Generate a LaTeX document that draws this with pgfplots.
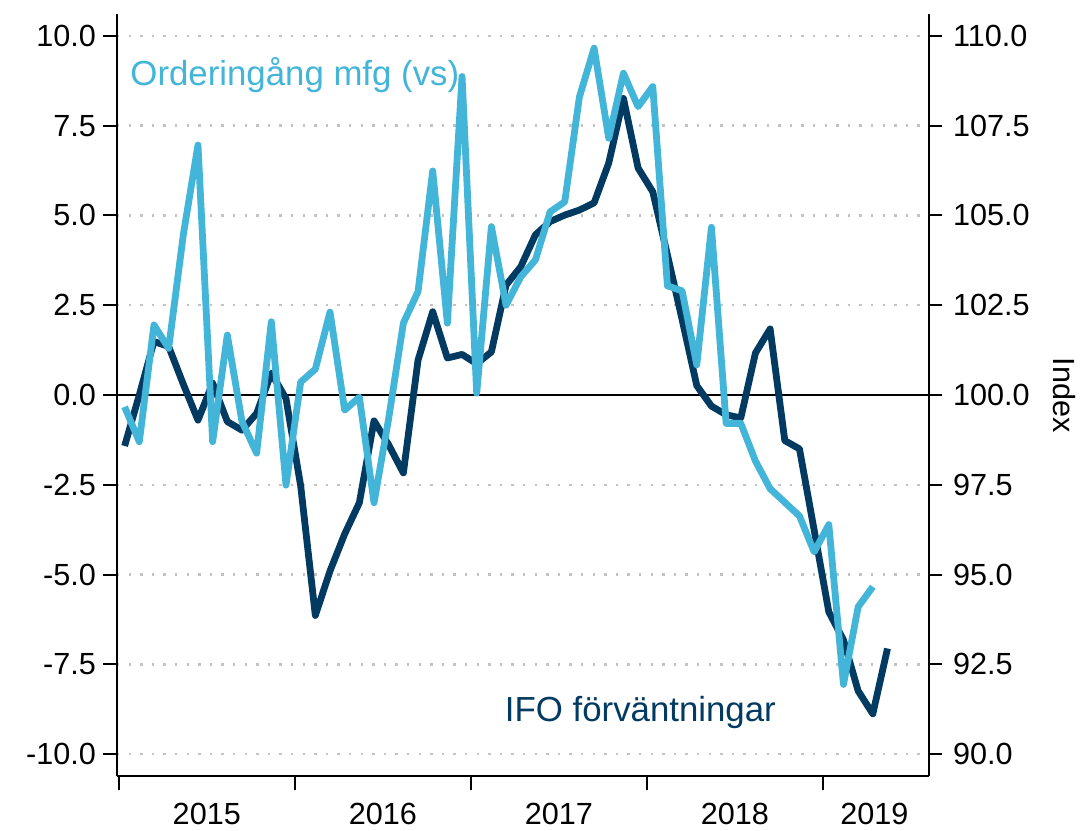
\documentclass[border=0pt]{standalone}
\usepackage{pgfplots}
\pgfplotsset{compat=1.18}
\usepackage{fontspec}
\setmainfont{Liberation Sans}
\definecolor{lblue}{RGB}{67,181,216}
\definecolor{navy}{RGB}{2,58,98}
\definecolor{gridgray}{RGB}{195,195,195}

\pgfplotstableread{
x y
0.4 -0.33
1.4 -1.30
2.4 1.95
3.4 1.30
4.4 4.46
5.4 6.96
6.4 -1.30
7.4 1.67
8.4 -0.74
9.4 -1.62
10.4 2.04
11.4 -2.51
12.4 0.36
13.4 0.72
14.4 2.31
15.4 -0.42
16.4 -0.06
17.4 -3.00
18.4 -0.65
19.4 2.00
20.4 2.88
21.4 6.24
22.4 2.00
23.4 8.87
24.4 0.05
25.4 4.69
26.4 2.50
27.4 3.29
28.4 3.76
29.4 5.10
30.4 5.38
31.4 8.30
32.4 9.66
33.4 7.15
34.4 8.96
35.4 8.03
36.4 8.59
37.4 3.04
38.4 2.90
39.4 0.84
40.4 4.67
41.4 -0.79
42.4 -0.79
43.4 -1.84
44.4 -2.61
45.4 -2.99
46.4 -3.37
47.4 -4.37
48.4 -3.61
49.4 -8.06
50.4 -5.90
51.4 -5.34
}\orders

\pgfplotstableread{
x y
0.4 98.58
1.4 100.00
2.4 101.49
3.4 101.35
4.4 100.30
5.4 99.30
6.4 100.33
7.4 99.26
8.4 99.02
9.4 99.49
10.4 100.61
11.4 99.90
12.4 97.47
13.4 93.86
14.4 95.10
15.4 96.13
16.4 97.00
17.4 99.28
18.4 98.61
19.4 97.83
20.4 100.97
21.4 102.32
22.4 101.03
23.4 101.13
24.4 100.87
25.4 101.20
26.4 103.06
27.4 103.57
28.4 104.46
29.4 104.83
30.4 105.01
31.4 105.15
32.4 105.35
33.4 106.46
34.4 108.26
35.4 106.32
36.4 105.66
37.4 103.90
38.4 102.10
39.4 100.26
40.4 99.69
41.4 99.45
42.4 99.36
43.4 101.17
44.4 101.84
45.4 98.73
46.4 98.50
47.4 96.24
48.4 93.96
49.4 93.18
50.4 91.76
51.4 91.12
52.4 92.94
}\ifo

\begin{document}
\begin{tikzpicture}
\useasboundingbox (-58.5pt,-27.5pt) rectangle (483pt,388pt);
\pgfplotsset{
  base/.style={
    scale only axis, width=406pt, height=381pt,
    at={(0pt,0pt)}, anchor=south west,
    xmin=-0.12, xmax=55.23,
    tick align=outside,
    major tick length=6.5pt,
    tick style={black, line width=1pt},
    axis line style={black, line width=1pt},
    ticklabel style={font=\fontsize{15.3}{18}\selectfont},
    clip=false,
  }
}
% right axis: IFO
\begin{axis}[base,
  ymin=89.39, ymax=110.61,
  axis x line=none,
  axis y line*=right,
  ytick={90,92.5,95,97.5,100,102.5,105,107.5,110},
  yticklabels={90.0,92.5,95.0,97.5,100.0,102.5,105.0,107.5,110.0},
  yticklabel style={xshift=2pt},
  ymajorgrids,
  grid style={gridgray, line width=1.2pt, dash pattern=on 1.2pt off 4.6pt},
  ylabel={Index},
  ylabel shift=5pt,
  ylabel style={rotate=180, font=\fontsize{15.3}{18}\selectfont},
]
\draw[black, line width=0.9pt] (axis cs:-0.12,100) -- (axis cs:55.23,100);
\addplot[navy, line width=3.4pt, line join=round] table[x=x,y=y] {\ifo};
\end{axis}
% left axis: orders
\begin{axis}[base,
  ymin=-10.61, ymax=10.61,
  axis x line*=bottom,
  axis y line*=left,
  ytick={-10,-7.5,-5,-2.5,0,2.5,5,7.5,10},
  yticklabels={-10.0,-7.5,-5.0,-2.5,0.0,2.5,5.0,7.5,10.0},
  xtick={0,12,24,36,48},
  xticklabels={,,,,},
  major tick length=7pt,
  extra x ticks={6,18,30,42,51.5},
  extra x tick labels={2015,2016,2017,2018,2019},
  extra x tick style={tick style={draw=none}, xticklabel style={yshift=-3pt}},
]
\addplot[lblue, line width=3.4pt, line join=round] table[x=x,y=y] {\orders};
\node[anchor=base west, inner sep=0pt, text=lblue, font=\fontsize{17.4}{20}\selectfont] at (axis cs:0.77,8.62) {Orderingång mfg (vs)};
\node[anchor=base west, inner sep=0pt, text=navy, font=\fontsize{17.4}{20}\selectfont] at (axis cs:26.3,-9.08) {IFO förväntningar};
\end{axis}
\end{tikzpicture}
\end{document}
